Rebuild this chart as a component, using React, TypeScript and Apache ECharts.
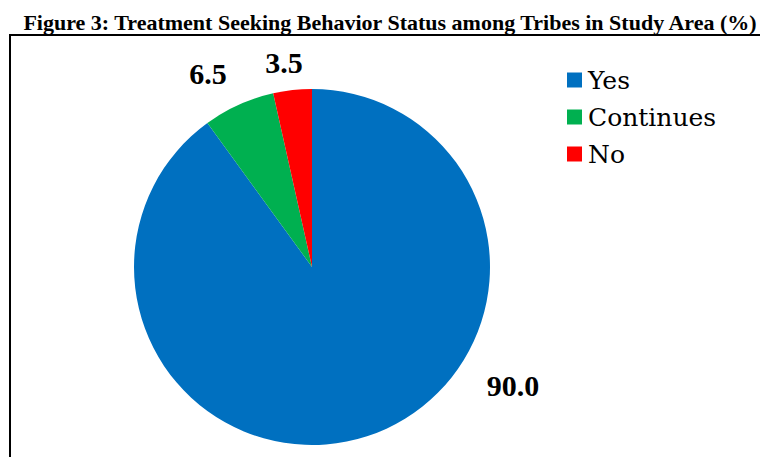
import React, { useEffect, useRef } from "react";
import * as echarts from "echarts";

// Share of respondents (%) by treatment-seeking status
const categories = ["Yes", "Continues", "No"];
const shares = [90.0, 6.5, 3.5];
const sliceColors = ["#0070C0", "#00B050", "#FF0000"];

const titleText =
  "Figure 3: Treatment Seeking Behavior Status among Tribes in Study Area (%)";

// Hand-placed value label anchors, in the order of the categories
const labelAnchors: [number, number][] = [
  [513, 385],
  [208, 73],
  [284, 62],
];

const boldSerif = "Liberation Serif";
const legendSerif = "DejaVu Serif";

export default function App() {
  const ref = useRef<HTMLDivElement>(null);

  useEffect(() => {
    if (!ref.current) return;
    const chart = echarts.init(ref.current, null, { renderer: "svg" });
    chart.setOption({
      animation: false,
      backgroundColor: "#ffffff",
      title: {
        text: titleText,
        left: 385,
        top: 6,
        textAlign: "center",
        textStyle: {
          fontFamily: boldSerif,
          fontWeight: "bold",
          fontSize: 22,
          color: "#000",
        },
      },
      legend: {
        orient: "vertical",
        left: 562,
        top: 60,
        icon: "rect",
        itemWidth: 15,
        itemHeight: 15,
        itemGap: 7,
        data: categories,
        textStyle: {
          fontFamily: legendSerif,
          fontSize: 25,
          lineHeight: 30,
          color: "#000",
          padding: [0, 0, 0, 1],
        },
      },
      graphic: [
        {
          type: "rect",
          shape: { x: 10, y: 35, width: 800, height: 500 },
          style: { fill: "none", stroke: "#000", lineWidth: 2 },
          silent: true,
        },
      ],
      series: [
        {
          type: "pie",
          center: [312, 267],
          radius: 178,
          startAngle: 90,
          clockwise: true,
          avoidLabelOverlap: false,
          data: categories.map((name, i) => ({
            name,
            value: shares[i],
            itemStyle: { color: sliceColors[i] },
          })),
          label: {
            show: true,
            position: "outside",
            formatter: (p: any) => Number(p.value).toFixed(1),
            fontFamily: boldSerif,
            fontWeight: "bold",
            fontSize: 30,
            color: "#000",
          },
          labelLine: { show: false },
          labelLayout: (params: any) => {
            const a = labelAnchors[params.dataIndex];
            return {
              x: a[0],
              y: a[1],
              align: "center",
              verticalAlign: "middle",
            };
          },
          emphasis: { disabled: true },
        },
      ],
    });
    return () => chart.dispose();
  }, []);

  return (
    <div
      ref={ref}
      style={{
        position: "fixed",
        left: 0,
        top: 0,
        width: 760,
        height: 457,
      }}
    />
  );
}
